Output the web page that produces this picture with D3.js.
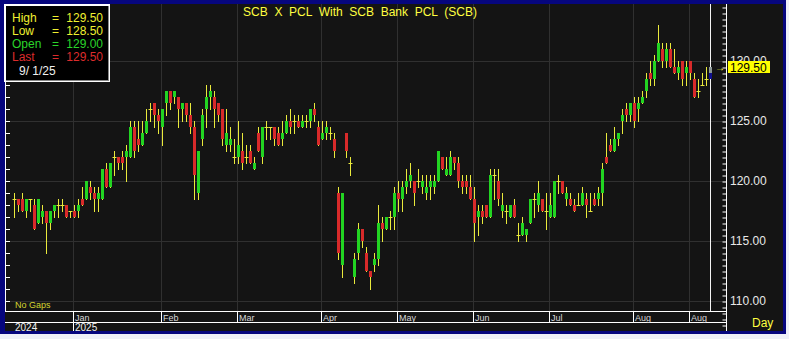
<!DOCTYPE html>
<html>
<head>
<meta charset="utf-8">
<script src="https://cdn.jsdelivr.net/npm/d3@7"></script>
<style>
  html, body { margin: 0; padding: 0; background: #eef0f8; }
  svg { display: block; font-family: "Liberation Sans", Arial, sans-serif; }
</style>
</head>
<body>
<div id="vis"></div>
<script>
// daily bars, Dec 2024 .. 1 Sep 2025
var opens = [118.5,118.5,118.5,117.5,118.5,118,116.5,117,117.5,116.5,117.5,118,118,118,117.5,117.5,117.5,118.5,118.5,119.5,
  119,118.5,118.5,121,119.5,122,122,122,122,122,124.5,123.5,123,124,126,126.5,125.5,124.5,126.5,127.5,
  127,127,126,126.5,125.5,124.5,119,123.5,126,127,127,126.5,126,123,123,122,122,122.5,122,122.5,
  121,124,122,124.5,124.5,124.5,124,123.5,124,125,125,125,124.5,125,125,126,124.5,123.5,124,124,
  123.5,119,113,124,121.5,112,114,116,114,112.5,113,113.5,116.5,116,117,117,119,118.5,119.5,120,
  120,120,119.5,119,119.5,119.5,120,122,120.5,120.5,122,121.5,120,120,119.5,118.5,117,117.5,118,117,
  120.5,120,117.5,117.5,117,118,115.5,115.5,115.5,116.5,118.5,118,118.5,117.5,117,117,120,120,118.5,118.5,
  118,118,118,118.5,117.5,118.5,118.5,119,122,123,122.5,123.5,125,126,125.5,126.5,126,126.5,127.5,129,
  128.5,130,131,130,131,129.5,129,130,129,130,128.5,127.5,128,128.5,129];
var highs = [119,118.5,119,118.5,118.5,118.5,118.5,118,117.5,117.5,118,118.5,118.5,118,117.5,118,118.5,119.5,120,120,
  119.5,119.5,121,121.5,121.5,122.5,122,122.5,123,125,125,125,125,126,126.5,126.5,126,126,127.5,127.5,
  127.5,127,126.5,126.5,126.5,125,122.5,126,128,128,127.5,126.5,126,126,124.5,123.5,125,124,123,123,
  122,124.5,124.5,125,124.5,124.5,124.5,125,125.5,126,125.5,125.5,125.5,125.5,126,126.5,125,125,125,124.5,
  124,119.5,119,124,122,114,116.5,116,114.5,112.5,114,118,117,117,117.5,119.5,120,120,121,121.5,
  120,121,120.5,120.5,120.5,120.5,122.5,122,122,122.5,122,122,120.5,120.5,120.5,119.5,118,118,118,121,
  121,121,119,118,118,118.5,116.5,117,116,118.5,119,120,118.5,119,119,120,120.5,120,119.5,119,
  118.5,119,119.5,119,119,119,119.5,121.5,124,123.5,124.5,124,126,126.5,126.5,127,127,127.5,129,130,
  130.5,133,131.5,131.5,131.5,131,130,130,130,130,129,128.5,129,129.5,129.5];
var lows = [117,117.5,117.5,117,117.5,116,116.5,116.5,114,116,117,117,117.5,117,117,117,117,118,118.5,118.5,
  117.5,117.5,118.5,119.5,119.5,120.5,121,121,120,122,122,122.5,123,124,125,124.5,124,123,125.5,126,
  126.5,124.5,125,125,124,118.5,118.5,123,124.5,126,124.5,125,123,122.5,122.5,121.5,121.5,121,121.5,121.5,
  121,122.5,121.5,123.5,123.5,123,123,123,124,124,124,124.5,124.5,124.5,124.5,125,123,123.5,123.5,123.5,
  122,113.5,112,122,120.5,111.5,113.5,114.5,112.5,111,112.5,113,115,116,116,116,117.5,117.5,119,119.5,
  118,119.5,119,118.5,118.5,119,120,121,120.5,120.5,121,119.5,119,119,118.5,115,115.5,116.5,117,117,
  118.5,118,117,116.5,117,117,115,115.5,115,116.5,117,117.5,117.5,116,117,117,119,119,118,118,
  117.5,118,118,117,117.5,118,118,118,121.5,122.5,122.5,123,124,125,125,124.5,125,126.5,127,128,
  128,130,129.5,129.5,129.5,129,128.5,128,128,128.5,127,127,128,128,128.5];
var closes = [118.5,118,117.5,118.5,118.5,116,118.5,117.5,116.5,117.5,118,118,118,117,117.5,117,118,118,120,119,
  118.5,119,121,119.5,121.5,122,121.5,121.5,122.5,124.5,122.5,123,124,125,126,125.5,125,126,127.5,126.5,
  127.5,126,126.5,125.5,124.5,120.5,122.5,125.5,127,127.5,126,125.5,123.5,124,123.5,122,123,121.5,122,121.5,
  121.5,122.5,124.5,124.5,124.5,123.5,123,124,125,124.5,125,124.5,125,125,126,125.5,123,124,124.5,124,
  122.5,114,119,122.5,121.5,113.5,116,115,112.5,112,113.5,116.5,116,117,117,119,118.5,119.5,120,120.5,
  119,120,120,119.5,120,120,122.5,121,121,122,121.5,120,119.5,119.5,118.5,116.5,117.5,117,117,120.5,
  120.5,118.5,118,117.5,118,117,115.5,116.5,116,118.5,118.5,119,117.5,117.5,118,120,120,119,119,118,
  117.5,118,119,118,117.5,118,119,121,121.5,122.5,123.5,124,125.5,125.5,126.5,125,126.5,127,128.5,128.5,
  130,131.5,130,131,129.5,129,129.5,128.5,129.5,129,127,127.5,128,128.5,129.5];

var monthLabels = ["Jan", "Feb", "Mar", "Apr", "May", "Jun", "Jul", "Aug", "Aug"];
var monthStart = [15, 37, 56, 77, 96, 115, 134, 155, 169];
var yearLabels = ["2024", "2025"];
var yearStart = [0, 15];
var yTicks = [110, 115, 120, 125, 130];
var lastDate = "9/ 1/25";
var title = "SCB  X  PCL  With  SCB  Bank  PCL  (SCB)";

var W = 789, H = 339;
var bars = opens.map(function (o, i) {
  return { i: i, o: o, h: highs[i], l: lows[i], c: closes[i] };
});

var svg = d3.select("#vis").append("svg").attr("width", W).attr("height", H);

// frame
svg.append("rect").attr("x", 0).attr("y", 0).attr("width", 786).attr("height", 334).attr("fill", "#06067e");
svg.append("rect").attr("x", 5).attr("y", 4).attr("width", 778).attr("height", 327).attr("fill", "#141414");

var x = d3.scaleLinear().domain([0, bars.length - 1]).range([14.5, 710.5]);
var y = d3.scaleLinear().domain([110, 130]).range([301, 61]);

var plot = svg.append("g");
plot.append("clipPath").attr("id", "clip")
  .append("rect").attr("x", 6).attr("y", 4).attr("width", 720).attr("height", 307);

// grid
var grid = plot.append("g").attr("stroke", "#303030").attr("stroke-width", 1);
grid.selectAll("line.h").data(yTicks).enter().append("line")
  .attr("x1", 6).attr("x2", 726)
  .attr("y1", function (d) { return Math.round(y(d)) + 0.5; })
  .attr("y2", function (d) { return Math.round(y(d)) + 0.5; });
grid.selectAll("line.v").data(monthStart).enter().append("line")
  .attr("x1", function (d) { return Math.floor(x(d)) - 0.5; })
  .attr("x2", function (d) { return Math.floor(x(d)) - 0.5; })
  .attr("y1", 4).attr("y2", 311);

// current bar line
plot.append("line")
  .attr("x1", x(bars.length - 1)).attr("x2", x(bars.length - 1))
  .attr("y1", 4).attr("y2", 311)
  .attr("stroke", "#f4f4f4");

// candles
var cg = plot.append("g").attr("clip-path", "url(#clip)");
var last = bars[bars.length - 1];
var body = cg.selectAll("g.bar").data(bars.slice(0, -1)).enter().append("g");

body.append("line")
  .attr("x1", function (d) { return x(d.i); })
  .attr("x2", function (d) { return x(d.i); })
  .attr("y1", function (d) { return y(d.h); })
  .attr("y2", function (d) { return y(d.l) + 1; })
  .attr("stroke", "#eaea3c");

body.filter(function (d) { return d.o !== d.c; }).append("rect")
  .attr("x", function (d) { return x(d.i) - 1.5; })
  .attr("width", 3)
  .attr("y", function (d) { return y(Math.max(d.o, d.c)); })
  .attr("height", function (d) { return Math.abs(y(d.o) - y(d.c)); })
  .attr("fill", function (d) { return d.c > d.o ? "#22d422" : "#d82a2a"; });

body.filter(function (d) { return d.o === d.c; }).append("line")
  .attr("x1", function (d) { return x(d.i) - 2; })
  .attr("x2", function (d) { return x(d.i) + 2; })
  .attr("y1", function (d) { return Math.round(y(d.o)) + 0.5; })
  .attr("y2", function (d) { return Math.round(y(d.o)) + 0.5; })
  .attr("stroke", "#eaea3c");

// highlighted last bar
cg.append("rect")
  .attr("x", x(last.i) - 1.5).attr("width", 3)
  .attr("y", y(last.o)).attr("height", y(last.l) - y(last.o))
  .attr("fill", "#101090");
cg.append("rect")
  .attr("x", x(last.i) - 1.5).attr("width", 3)
  .attr("y", y(last.c)).attr("height", y(last.o) - y(last.c))
  .attr("fill", "#8a9696");

// left axis
var leftTicks = d3.range(107, 134, 1);
svg.append("line").attr("x1", 5.5).attr("x2", 5.5).attr("y1", 4).attr("y2", 311).attr("stroke", "#fff");
svg.append("g").selectAll("line").data(leftTicks.filter(function (d) { return y(d) > 5 && y(d) < 308; }))
  .enter().append("line")
  .attr("x1", 5).attr("x2", 10)
  .attr("y1", function (d) { return Math.round(y(d)) + 0.5; })
  .attr("y2", function (d) { return Math.round(y(d)) + 0.5; })
  .attr("stroke", "#fff");

// right axis
var minor = d3.range(106, 135, 0.5).filter(function (d) { return y(d) > 5 && y(d) < 330; });
var raxis = svg.append("g").attr("transform", "translate(726.5,0)")
  .call(d3.axisRight(y).tickValues(minor).tickSize(-4).tickFormat(""));
raxis.select(".domain").remove();
raxis.selectAll("line").attr("stroke", "#fff").attr("transform", function () {
  return "translate(0,0.5)";
});
svg.append("line").attr("x1", 726.5).attr("x2", 726.5).attr("y1", 4).attr("y2", 331).attr("stroke", "#fff");

svg.append("g").selectAll("text").data(yTicks).enter().append("text")
  .attr("x", 730).attr("y", function (d) { return y(d) + 4; })
  .attr("fill", "#e8e8e8").attr("font-size", 12)
  .text(function (d) { return d3.format(".2f")(d); });

// last price tag
svg.append("rect").attr("x", 728).attr("y", y(last.c) - 6).attr("width", 42).attr("height", 12).attr("fill", "#ffff00");
svg.append("text").attr("x", 730).attr("y", y(last.c) + 4.5)
  .attr("fill", "#000").attr("font-size", 12).text(d3.format(".2f")(last.c));
svg.append("text").attr("x", 715).attr("y", y(last.c) + 4)
  .attr("fill", "#ffff40").attr("font-size", 10).text("\u2192");

// bottom time axis
var tg = svg.append("g").attr("stroke", "#fff");
tg.append("line").attr("x1", 5).attr("x2", 727).attr("y1", 311.5).attr("y2", 311.5);
tg.append("line").attr("x1", 5).attr("x2", 727).attr("y1", 322.5).attr("y2", 322.5);
tg.selectAll("line.m").data(monthStart).enter().append("line")
  .attr("x1", function (d) { return Math.floor(x(d)) - 0.5; })
  .attr("x2", function (d) { return Math.floor(x(d)) - 0.5; })
  .attr("y1", 311).attr("y2", 322);
tg.selectAll("line.y").data(yearStart.slice(1)).enter().append("line")
  .attr("x1", function (d) { return Math.floor(x(d)) - 0.5; })
  .attr("x2", function (d) { return Math.floor(x(d)) - 0.5; })
  .attr("y1", 322).attr("y2", 331);

svg.append("g").selectAll("text").data(monthStart).enter().append("text")
  .attr("x", function (d) { return Math.floor(x(d)) + 1; })
  .attr("y", 320.5)
  .attr("fill", "#d8d8d8").attr("font-size", 9)
  .text(function (d, i) { return monthLabels[i]; });
svg.append("g").selectAll("text").data(yearStart).enter().append("text")
  .attr("x", function (d) { return Math.floor(x(d)) + 1; })
  .attr("y", 331)
  .attr("fill", "#f0f0f0").attr("font-size", 10)
  .text(function (d, i) { return yearLabels[i]; });

svg.append("text").attr("x", 15).attr("y", 308).attr("fill", "#d4d430").attr("font-size", 9).text("No  Gaps");
svg.append("text").attr("x", 752).attr("y", 327).attr("fill", "#ffff40").attr("font-size", 12).text("Day");

// title
svg.append("text").attr("x", 360).attr("y", 16).attr("text-anchor", "middle")
  .attr("fill", "#ffff40").attr("font-size", 12).attr("xml:space", "preserve")
  .style("white-space", "pre").text(title);

// info box
var box = svg.append("g");
box.append("rect").attr("x", 4).attr("y", 4).attr("width", 106).attr("height", 78).attr("fill", "#fff");
box.append("rect").attr("x", 6).attr("y", 6).attr("width", 103).attr("height", 75).attr("fill", "#888");
box.append("rect").attr("x", 6).attr("y", 6).attr("width", 102).attr("height", 74).attr("fill", "#000");
var rows = [
  ["High", last.h, "#f0f030"],
  ["Low", last.l, "#f0f030"],
  ["Open", last.o, "#2ad42a"],
  ["Last", last.c, "#dc2c2c"]
];
rows.forEach(function (r, k) {
  var yy = 22 + k * 13;
  box.append("text").attr("x", 12).attr("y", yy).attr("fill", r[2]).attr("font-size", 12).text(r[0]);
  box.append("text").attr("x", 52).attr("y", yy).attr("fill", r[2]).attr("font-size", 12).text("=");
  box.append("text").attr("x", 103).attr("y", yy).attr("text-anchor", "end").attr("fill", r[2]).attr("font-size", 12)
    .text(d3.format(".2f")(r[1]));
});
box.append("text").attr("x", 19).attr("y", 75).attr("fill", "#f0f0f0").attr("font-size", 12)
  .style("white-space", "pre").text(lastDate);
</script>
</body>
</html>
